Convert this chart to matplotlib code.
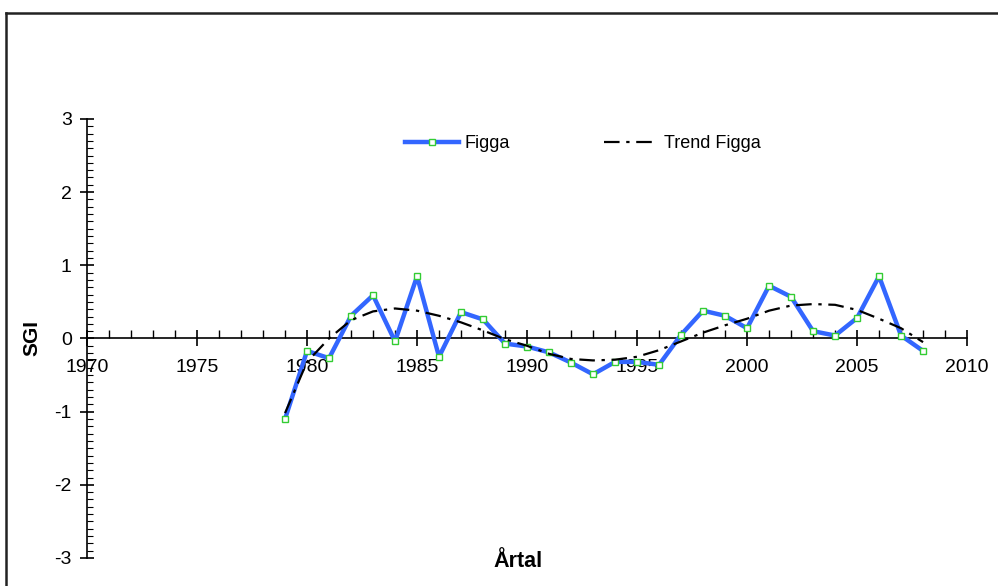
import matplotlib.pyplot as plt
from matplotlib.lines import Line2D
from matplotlib.ticker import MultipleLocator
import numpy as np

plt.rcParams['font.family'] = ['Liberation Sans', 'DejaVu Sans']
plt.rcParams['axes.unicode_minus'] = False

# SGI values per year
years = list(range(1979, 2009))
figga = [-1.10, -0.17, -0.27, 0.31, 0.59, -0.04, 0.85, -0.25, 0.36, 0.26,
         -0.07, -0.11, -0.19, -0.33, -0.49, -0.32, -0.32, -0.36, 0.05, 0.38,
         0.31, 0.14, 0.72, 0.57, 0.10, 0.04, 0.28, 0.85, 0.04, -0.17]
trend = [-1.02, -0.32, 0.00, 0.25, 0.37, 0.41, 0.38, 0.31, 0.22, 0.11,
         -0.01, -0.10, -0.21, -0.28, -0.30, -0.29, -0.25, -0.16, -0.04, 0.08,
         0.18, 0.27, 0.38, 0.45, 0.47, 0.46, 0.39, 0.27, 0.14, -0.05]

fig = plt.figure(figsize=(9.98, 5.86), dpi=100)
ax = fig.add_axes([0.0872, 0.0478, 0.8818, 0.7492])

ax.plot(years, figga, color='#3366ff', lw=3.2, marker='s', ms=4,
        mfc='white', mec='#33cc33', mew=1.0, label='Figga', zorder=3)
ax.plot(years, trend, color='black', lw=1.6, ls=(0, (7, 3, 1.5, 3)),
        label='Trend Figga', zorder=4)

ax.set_xlim(1970, 2010)
ax.set_ylim(-3, 3)

# axes crossing at y=0 and x=1970
for s in ['top', 'right']:
    ax.spines[s].set_visible(False)
ax.spines['bottom'].set_position(('data', 0))
ax.spines['left'].set_position(('data', 1970))
ax.spines['bottom'].set_linewidth(1.2)
ax.spines['left'].set_linewidth(1.2)

ax.xaxis.set_major_locator(MultipleLocator(5))
ax.xaxis.set_minor_locator(MultipleLocator(1))
ax.yaxis.set_major_locator(MultipleLocator(1))
ax.yaxis.set_minor_locator(MultipleLocator(0.1))

ax.tick_params(axis='x', which='major', direction='inout', length=12, width=1.2,
               labelsize=14, pad=9)
ax.tick_params(axis='x', which='minor', direction='in', length=6, width=1.0)
ax.tick_params(axis='y', which='major', direction='inout', length=10, width=1.2,
               labelsize=14, pad=6)
ax.tick_params(axis='y', which='minor', direction='in', length=4, width=0.8)

ax.set_xlabel('Årtal', fontsize=15.5, fontweight='bold')
ax.xaxis.set_label_coords(0.49, 0.017)
ax.set_ylabel('SGI', fontsize=15, fontweight='bold')
ax.yaxis.set_label_coords(-0.052, 0.5)

ax.legend(loc='center', bbox_to_anchor=(0.584, 0.755), bbox_transform=fig.transFigure,
          ncol=2, frameon=False, fontsize=13, handlelength=3.0, columnspacing=5.2,
          handletextpad=0.3)

# outer frame
fig.add_artist(Line2D([0.006, 0.006], [0.0, 0.978], color='#222222', lw=1.8,
                      transform=fig.transFigure))
fig.add_artist(Line2D([0.006, 1.0], [0.978, 0.978], color='#222222', lw=1.8,
                      transform=fig.transFigure))

fig.savefig('out.png', dpi=100)
